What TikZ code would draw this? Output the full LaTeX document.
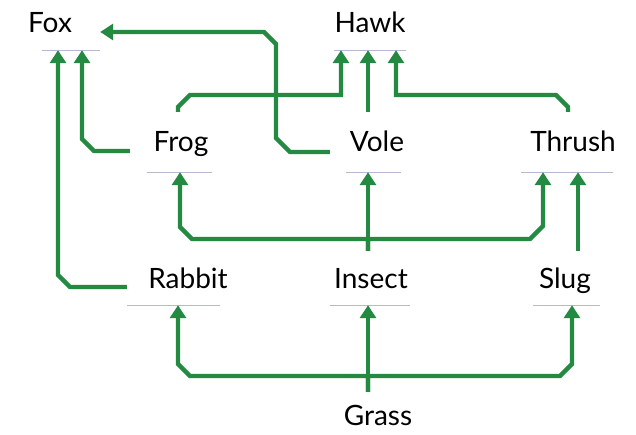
\documentclass[tikz,border=0pt]{standalone}
\usepackage{fontspec}
\setmainfont{Lato}
\usetikzlibrary{arrows.meta}
\definecolor{fwgreen}{RGB}{36,138,66}
\definecolor{baseln}{RGB}{185,185,205}
\begin{document}
\begin{tikzpicture}[x=1pt,y=-1pt,
  animal/.style={fill=white, inner sep=0pt, text height=20pt, text depth=0pt,
    font=\fontsize{28}{30}\selectfont},
  arr/.style={draw=fwgreen, line width=4.4pt, -{Triangle[width=16pt,length=13pt]}},
  bline/.style={draw=baseln, line width=0.8pt}]
\useasboundingbox (0,0) rectangle (636,435);
\fill[white] (0,0) rectangle (636,435);

% nodes
\node[animal, minimum width=100pt, minimum height=54pt] (fox)    at (50,23)   {Fox};
\node[animal, minimum width=76pt,  minimum height=54pt] (hawk)   at (370,23)  {Hawk};
\node[animal, minimum width=102pt, minimum height=60pt] (frog)   at (181,142) {Frog};
\node[animal, minimum width=94pt,  minimum height=60pt] (vole)   at (377,142) {Vole};
\node[animal, minimum width=100pt, minimum height=60pt] (thrush) at (573,142) {Thrush};
\node[animal, minimum width=122pt, minimum height=54pt] (rabbit) at (188,278) {Rabbit};
\node[animal, minimum width=84pt,  minimum height=54pt] (insect) at (371,278) {Insect};
\node[animal, minimum width=70pt,  minimum height=54pt] (slug)   at (565,278) {Slug};
\node[animal, minimum width=80pt,  minimum height=46pt] (grass)  at (378,415) {Grass};

% bottom lines of the boxes
\draw[bline] (42,0 |- fox.south) -- (fox.south east);
\draw[bline] (334,0 |- hawk.south) -- (406,0 |- hawk.south);
\draw[bline] (147,0 |- frog.south) -- (212,0 |- frog.south);
\draw[bline] (346,0 |- vole.south) -- (401,0 |- vole.south);
\draw[bline] (521,0 |- thrush.south) -- (613,0 |- thrush.south);
\draw[bline] (127,0 |- rabbit.south) -- (220,0 |- rabbit.south);
\draw[bline] (330,0 |- insect.south) -- (410,0 |- insect.south);
\draw[bline] (533,0 |- slug.south) -- (600,0 |- slug.south);

% connectors
\draw[arr] ([yshift=-9pt]rabbit.west) -- (70,287) -- (58,275) -- (58,0 |- fox.south);
\draw[arr] ([yshift=-9pt]frog.west) -- (94,151) -- (82,139) -- (82,0 |- fox.south);
\draw[arr] ([yshift=-10pt]vole.west) -- (290,152) -- (276,138) -- (276,44) -- (264,32) -- ([yshift=-9pt]fox.east);
\draw[arr] (178,0 |- frog.north) -- (178,107) -- (190,95) -- (341,95) -- (341,0 |- hawk.south);
\draw[arr] (368,0 |- vole.north) -- (368,0 |- hawk.south);
\draw[arr] (568,0 |- thrush.north) -- (568,107) -- (556,95) -- (396,95) -- (396,0 |- hawk.south);
\draw[arr] (368,0 |- insect.north) -- (368,0 |- vole.south);
\draw[arr] (368,0 |- insect.north) -- (368,239) -- (192,239) -- (180,227) -- (180,0 |- frog.south);
\draw[arr] (368,0 |- insect.north) -- (368,239) -- (530,239) -- (543,226) -- (543,0 |- thrush.south);
\draw[arr] (578,0 |- slug.north) -- (578,0 |- thrush.south);
\draw[arr] (368,0 |- grass.north) -- (368,376) -- (190,376) -- (178,364) -- (178,0 |- rabbit.south);
\draw[arr] (368,0 |- grass.north) -- (368,0 |- insect.south);
\draw[arr] (368,0 |- grass.north) -- (368,376) -- (560,376) -- (572,364) -- (572,0 |- slug.south);
\end{tikzpicture}
\end{document}
